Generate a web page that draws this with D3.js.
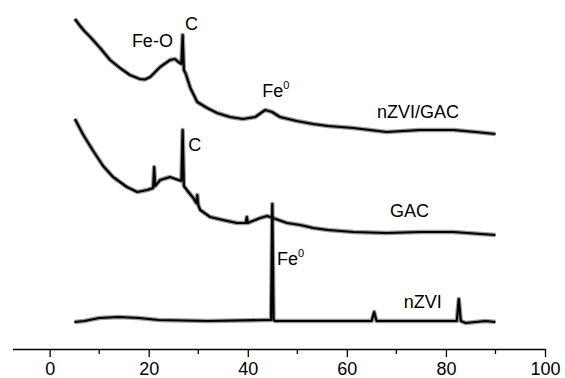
<!DOCTYPE html>
<html>
<head>
<meta charset="utf-8">
<script src="https://cdn.jsdelivr.net/npm/d3@7"></script>
<style>
  body { margin: 0; background: #fff; }
  svg { display: block; font-family: "Liberation Sans", Arial, sans-serif; }
</style>
</head>
<body>
<svg id="chart" width="565" height="378"></svg>
<script>
// XRD patterns, 2-theta (deg) vs intensity (a.u., curves offset vertically)
const twoTheta_nzviGac = [5.1, 6, 7, 8.2, 10.2, 12.2, 14.2, 16.2, 18.2, 19.2, 20.3, 22.3, 24.3, 25.3, 26.0, 26.6, 26.85, 27.1, 27.5, 28.4, 29.8, 31.8, 33.8, 36.4, 39, 41.5, 43.5, 44.9, 46.5, 49.9, 53.2, 56.2, 61.3, 68, 74.8, 81.5, 86, 90];
const int_nzviGac     = [331, 325, 319, 313, 302, 290, 282, 275, 271, 270.5, 273, 283, 290, 291, 288, 286, 315, 280, 276, 262, 248, 242, 237, 233, 231, 233, 240, 238, 233, 229, 226, 224, 222, 218, 220, 220, 218, 216];

const twoTheta_gac = [5.1, 6.8, 8.8, 10.8, 12.8, 15.6, 17.7, 19.7, 20.9, 21.1, 21.3, 22.3, 24.3, 26.0, 26.6, 26.85, 27.1, 27.7, 29.0, 29.6, 29.8, 30.0, 30.4, 32.4, 35, 37.8, 39.6, 39.8, 40.0, 42.5, 43.9, 45.1, 47.9, 50.6, 53.2, 56.2, 61.3, 68, 74.8, 81.5, 90];
const int_gac      = [231, 215, 199, 184, 173, 163, 158, 160, 162, 183, 164, 170, 173, 170, 169, 220, 164, 160, 152, 147, 155, 145, 140, 133, 130, 127, 127, 133, 127, 132, 134, 132, 127, 125, 122, 120, 118, 117, 118, 118, 115];

const twoTheta_nzvi = [5, 7, 10, 14, 18, 22, 32, 44, 44.7, 44.95, 45.2, 45.5, 50, 60, 65, 65.5, 66, 75, 82.2, 82.6, 83.0, 84, 88, 90];
const int_nzvi      = [28, 29, 32, 33, 32, 30, 29, 30, 30, 146, 30, 29, 29, 29, 29, 38, 29, 29, 29, 51, 29, 27, 29, 28];

const majorTicks = [0, 20, 40, 60, 80, 100];
const minorTicks = [10, 30, 50, 70, 90];

const series = [
  { name: "nZVI/GAC", x: twoTheta_nzviGac, y: int_nzviGac },
  { name: "GAC", x: twoTheta_gac, y: int_gac },
  { name: "nZVI", x: twoTheta_nzvi, y: int_nzvi }
];

const svg = d3.select("#chart");

const x = d3.scaleLinear().domain([-7.5, 100]).range([12.5, 545]);
const y = d3.scaleLinear().domain([0, 350]).range([350, 0]);
const axisY = 349;

const line = d3.line()
  .x(d => x(d[0]))
  .y(d => y(d[1]));

series.forEach(s => {
  const pts = s.x.map((v, i) => [v, s.y[i]]);
  // soft band to mimic the noisy trace
  svg.append("path")
    .attr("d", line(pts))
    .attr("fill", "none")
    .attr("stroke", "#333")
    .attr("stroke-width", 4.5)
    .attr("stroke-linejoin", "round")
    .attr("opacity", 0.5);
  svg.append("path")
    .attr("d", line(pts))
    .attr("fill", "none")
    .attr("stroke", "#000")
    .attr("stroke-width", 2.2)
    .attr("stroke-linejoin", "round");
});

// x axis
const gx = svg.append("g").attr("transform", `translate(0,${axisY})`);
gx.call(d3.axisBottom(x).tickValues(majorTicks).tickSize(8).tickSizeOuter(0).tickPadding(5).tickFormat(d3.format("d")));
gx.select(".domain").attr("stroke-width", 1.3);
gx.selectAll(".tick line").attr("stroke-width", 1.3);
gx.selectAll(".tick text").attr("font-size", 18).attr("font-family", "Liberation Sans, Arial, sans-serif");
gx.append("g").selectAll("line")
  .data(minorTicks)
  .join("line")
  .attr("x1", d => x(d)).attr("x2", d => x(d))
  .attr("y1", 0).attr("y2", 5)
  .attr("stroke", "#000").attr("stroke-width", 1.3);

// annotations (peak and curve labels)
function label(text, deg, inten, sup) {
  const t = svg.append("text")
    .attr("x", x(deg)).attr("y", y(inten))
    .attr("font-size", 18).attr("fill", "#000")
    .text(text);
  if (sup) {
    t.append("tspan").attr("dy", -8).attr("font-size", 11).text(sup);
  }
}
label("Fe-O", 16.6, 303);
label("C", 27.3, 320);
label("Fe", 42.9, 253, "0");
label("nZVI/GAC", 66.1, 232);
label("C", 28.0, 199);
label("GAC", 68.7, 133);
label("Fe", 45.9, 85, "0");
label("nZVI", 71.5, 42);
</script>
</body>
</html>
